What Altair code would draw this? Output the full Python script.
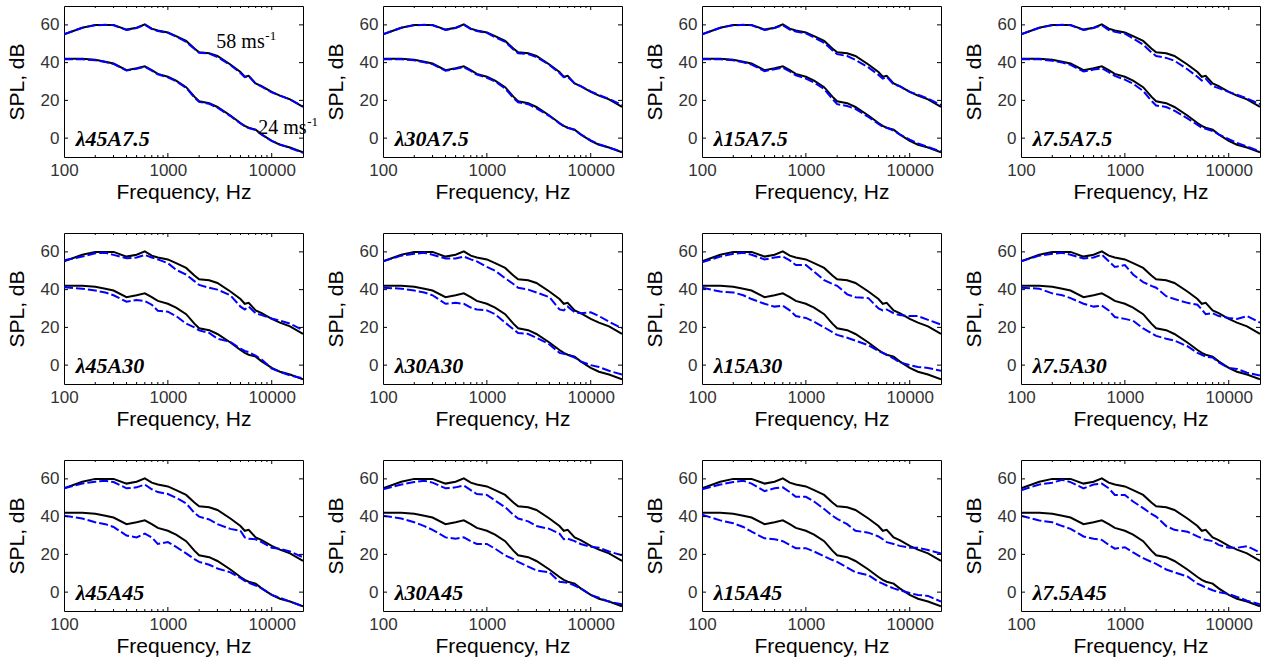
import altair as alt
import pandas as pd

# ---------------- data ----------------
FREQ = [100, 150, 200, 250, 300, 400, 500, 600, 700, 800, 1000, 1200, 1500, 1800, 2000,
        2500, 3000, 4000, 5000, 5500, 6000, 7000, 8000, 10000, 12000, 15000, 20000]

# baseline (straight trailing edge), black solid
BASE_58 = [55, 58.5, 60, 60, 60, 57.5, 58.5, 60.3, 58, 57, 56, 54, 51.5, 47.5, 45.5,
           45, 43.5, 39, 35, 32.5, 33, 29, 27.5, 24.5, 22.5, 20.5, 16.5]
BASE_24 = [42, 42, 41.5, 40.5, 39.5, 36, 37, 38, 36, 34, 32.5, 30.5, 27, 22, 19.5,
           18.5, 16.5, 12, 8, 6.5, 5.5, 4.5, 2, -1.5, -3.5, -5, -7.5]

# serrated cases, blue dashed (58 m/s and 24 m/s)
S58_45_75 = [55, 58.5, 59.8, 60, 59.8, 57.3, 58.3, 60, 57.8, 56.8, 55.8, 53.8, 51, 47.3, 45.2,
             44.8, 43, 38.7, 34.5, 32.3, 32.8, 28.8, 27.3, 24.3, 22.5, 20.5, 16.8]
S24_45_75 = [41.8, 41.8, 41.3, 40.3, 39.3, 35.8, 36.8, 37.8, 35.8, 33.8, 32.2, 30.2, 26.6, 21.6, 19.2,
             18.2, 16.1, 11.7, 7.8, 6.3, 5.3, 4.3, 1.8, -1.5, -3.3, -5.2, -7.8]
S58_30_75 = [55, 58.5, 59.8, 60, 59.8, 57.3, 58.3, 60, 57.8, 56.8, 55.8, 53.5, 51, 47, 45,
             44.5, 43, 38.8, 34.5, 32.3, 32.5, 29, 27.5, 24.8, 22.8, 20.8, 17.5]
S24_30_75 = [41.8, 41.8, 41.2, 40.2, 39.2, 35.7, 36.7, 37.6, 35.6, 33.6, 32, 30, 26.3, 21.3, 19,
             18, 15.8, 11.7, 7.8, 6.3, 5.5, 4.3, 2, -1.2, -3.2, -5, -7.3]
S58_15_75 = [55, 58.5, 59.8, 60, 59.8, 57.3, 58.3, 59.8, 57.5, 56.5, 55.5, 53.3, 50.5, 46.5, 44.5,
             43.5, 41.5, 37.5, 33.5, 31.5, 32.5, 28.5, 27.5, 24.5, 23, 21, 17.5]
S24_15_75 = [41.8, 41.8, 41.2, 40.2, 39, 35.5, 36.5, 37.3, 35.3, 33.3, 31.5, 29.5, 26, 20.8, 18,
             17, 15.5, 11.2, 7.5, 6, 5.5, 4, 2, -0.8, -2.8, -4.7, -7]
S58_75_75 = [55, 58.5, 59.8, 60, 59.8, 57.3, 58.3, 59.8, 57.3, 56.3, 55.3, 52.8, 49.5, 45.5, 43.5,
             42.5, 41, 36.5, 32.5, 30.5, 31.5, 27.5, 26.5, 24.5, 23, 21, 18]
S24_75_75 = [41.8, 41.8, 41, 40, 38.8, 35.3, 36.3, 37, 35, 33, 31, 28.8, 25, 19.8, 17.3,
             16.5, 14.5, 10.5, 7, 5.5, 5, 3.8, 2, -0.5, -2.5, -4.5, -7]

S58_45_30 = [55.5, 57.5, 59.3, 59.5, 58.4, 56.6, 57, 58.4, 57, 56, 54, 50.5, 48, 44.5, 42.5,
             41, 40, 37, 31, 29.5, 31, 27.5, 26.5, 24.7, 23.5, 22, 18.5]
S24_45_30 = [41.2, 40.5, 39.5, 38.5, 37, 33.6, 34.5, 34, 32, 28.8, 28.3, 26, 22, 20, 18.4,
             17, 14, 12.3, 8.7, 7.5, 6.9, 5, 3, -1.8, -3.5, -5.5, -7]
S58_30_30 = [55, 58, 59, 59.5, 58.5, 56.5, 56.5, 57.5, 56, 55, 52, 50, 46, 43, 41,
             40, 38.5, 36, 29.5, 29, 31, 28, 27.5, 28, 26, 23, 19.5]
S24_30_30 = [41, 40.5, 39.5, 38.5, 37, 32.5, 33, 32.5, 30.5, 29.5, 29, 27, 22.5, 19, 17,
             16.5, 14.5, 11, 6.5, 6, 5.5, 4, 2, 0, -1, -3, -5]
S58_15_30 = [54.5, 57.5, 59, 59.5, 58.5, 56, 57, 57.5, 55.5, 53, 53, 49.5, 45, 43, 42,
             37.5, 36, 35.5, 30, 29, 29.5, 27.5, 26.5, 26, 26, 24, 21.5]
S24_15_30 = [41, 39, 38.5, 37, 35, 32.5, 31, 31.5, 29, 26, 25, 23, 20, 17.5, 16,
             14.5, 13, 10.5, 7.5, 6.5, 5.5, 3.5, 1.5, 0, -1, -1.5, -3]
S58_75_30 = [55, 58, 59, 59.5, 58.5, 56.5, 57, 58.5, 55, 52, 53, 48, 44, 42, 41,
             36.5, 35, 33, 32, 29.5, 27, 27.5, 26, 25, 24.5, 26, 22.5]
S24_75_30 = [41, 40.5, 38, 37, 35.5, 32.5, 31, 31.5, 29, 25.5, 24.5, 23.5, 19.5, 17, 15.5,
             14, 13, 10, 6.5, 5.5, 4.5, 4, 1.5, -1.5, -2, -4, -5.5]

S58_45_45 = [55, 57.5, 58.5, 59, 58.3, 55, 55.5, 57, 54.5, 53, 52, 50, 47, 42, 40,
             38.5, 36, 33.5, 32.5, 29, 28.3, 28, 26.5, 23.5, 23, 21.5, 18.5]
S24_45_45 = [40.5, 39, 37, 36, 34.5, 30, 29, 31, 29, 25.5, 26.5, 24, 20.5, 17.5, 16,
             14.5, 12.5, 10.5, 7.5, 6, 5, 3.5, 2, -1.5, -3, -5, -7.5]
S58_30_45 = [54.5, 57, 58.3, 59, 58, 55, 55.5, 56.5, 54, 52, 51.5, 48.5, 45, 41, 39,
             37.5, 35, 33.5, 31, 28, 28.3, 27, 25.5, 24, 23.5, 21.5, 19.5]
S24_30_45 = [40.5, 39, 37, 35, 33, 29, 28.3, 29, 27, 25.5, 25.5, 23, 19.5, 17.5, 16,
             13.5, 11.5, 10.5, 5.5, 5.2, 5, 3.5, 2, -1.5, -3, -5, -6.5]
S58_15_45 = [54.5, 57, 58.3, 59, 57.5, 53.5, 55, 55.5, 53, 50.5, 50.5, 48, 44, 40.5, 38.8,
             36, 32.5, 31.5, 29.5, 28, 26.5, 25.5, 24.5, 23.5, 23.5, 22.3, 20.5]
S24_15_45 = [41, 38, 36.5, 34.5, 32, 28.5, 28, 27, 25, 23.3, 23.3, 21.5, 19, 17, 16,
             13, 10.5, 9, 5.5, 4.5, 3.5, 2, 1, -0.5, -1.5, -2, -5]
S58_75_45 = [54, 57, 58, 59.5, 58.3, 55, 57, 57.5, 55, 51.5, 51.5, 48, 44.5, 41.5, 40,
             35, 33, 32, 29.5, 28.5, 27.7, 27, 25, 23.5, 23.5, 24.3, 21]
S24_75_45 = [40.5, 38, 37, 35, 33.5, 29.5, 28.3, 27.7, 25, 23, 23.8, 21, 18, 16, 15,
             12, 10.5, 8.3, 4.5, 3.5, 2.5, 1, 0, -1, -2.5, -4.5, -6.5]

PANEL_LABELS = ["λ45A7.5", "λ30A7.5", "λ15A7.5", "λ7.5A7.5",
                "λ45A30", "λ30A30", "λ15A30", "λ7.5A30",
                "λ45A45", "λ30A45", "λ15A45", "λ7.5A45"]
PANEL_58 = [S58_45_75, S58_30_75, S58_15_75, S58_75_75,
            S58_45_30, S58_30_30, S58_15_30, S58_75_30,
            S58_45_45, S58_30_45, S58_15_45, S58_75_45]
PANEL_24 = [S24_45_75, S24_30_75, S24_15_75, S24_75_75,
            S24_45_30, S24_30_30, S24_15_30, S24_75_30,
            S24_45_45, S24_30_45, S24_15_45, S24_75_45]

X_MAJOR = [100, 1000, 10000]
X_MINOR = [200, 300, 400, 500, 600, 700, 800, 900,
           2000, 3000, 4000, 5000, 6000, 7000, 8000, 9000]
Y_TICKS = [0, 20, 40, 60]
X_DOMAIN = [100, 20000]
Y_DOMAIN = [-10, 70]

LABEL_POS = (130, -4.3)             # freq, SPL of panel label baseline
SPEED_TEXT = ["58 ms", "24 ms"]
SPEED_F = [2930, 7400]
SPEED_SPL = [47.7, 2.2]

W, H = 239, 151

xs = alt.Scale(type="log", domain=X_DOMAIN, nice=False)
ys = alt.Scale(domain=Y_DOMAIN, nice=False, zero=False)
X_ENC = alt.X("f:Q", scale=xs, axis=alt.Axis(values=X_MAJOR, format="d", title="Frequency, Hz",
                                             labelFlush=False))
Y_ENC = alt.Y("spl:Q", scale=ys, axis=alt.Axis(values=Y_TICKS, title="SPL, dB"))


def panel(label, s58, s24, annotate):
    rows = []
    for f, b58, b24, v58, v24 in zip(FREQ, BASE_58, BASE_24, s58, s24, strict=True):
        rows.append(dict(f=f, spl=b58, series="58", kind="base"))
        rows.append(dict(f=f, spl=b24, series="24", kind="base"))
        rows.append(dict(f=f, spl=v58, series="58", kind="serr"))
        rows.append(dict(f=f, spl=v24, series="24", kind="serr"))
    df = pd.DataFrame(rows)

    base = alt.Chart(df).transform_filter(alt.datum.kind == "base").mark_line(
        color="black", strokeWidth=2, clip=True
    ).encode(x=X_ENC, y=Y_ENC, detail="series:N")
    serr = alt.Chart(df).transform_filter(alt.datum.kind == "serr").mark_line(
        color="#0000ff", strokeWidth=2, strokeDash=[9, 3], clip=True
    ).encode(x=X_ENC, y=Y_ENC, detail="series:N")

    tmaj = pd.DataFrame({"f": X_MAJOR[1:]})
    tmin = pd.DataFrame({"f": X_MINOR})
    ty = pd.DataFrame({"spl": Y_TICKS})
    ticks = [
        alt.Chart(tmaj).mark_rule(color="black", strokeWidth=1).encode(
            x=X_ENC, y=alt.value(H), y2=alt.value(H - 4)),
        alt.Chart(tmaj).mark_rule(color="black", strokeWidth=1).encode(
            x=X_ENC, y=alt.value(0), y2=alt.value(4)),
        alt.Chart(tmin).mark_rule(color="black", strokeWidth=1).encode(
            x=X_ENC, y=alt.value(H), y2=alt.value(H - 2)),
        alt.Chart(tmin).mark_rule(color="black", strokeWidth=1).encode(
            x=X_ENC, y=alt.value(0), y2=alt.value(2)),
        alt.Chart(ty).mark_rule(color="black", strokeWidth=1).encode(
            y=Y_ENC, x=alt.value(0), x2=alt.value(4)),
        alt.Chart(ty).mark_rule(color="black", strokeWidth=1).encode(
            y=Y_ENC, x=alt.value(W), x2=alt.value(W - 4)),
    ]

    lab = alt.Chart(pd.DataFrame({"f": [LABEL_POS[0]], "spl": [LABEL_POS[1]], "t": [label]})).mark_text(
        font="Liberation Serif", fontSize=22, fontWeight="bold", fontStyle="italic",
        align="left", baseline="alphabetic", color="black"
    ).encode(x=X_ENC, y=Y_ENC, text="t:N")

    layers = [base, serr] + ticks + [lab]
    if annotate:
        sp = pd.DataFrame({"f": SPEED_F, "spl": SPEED_SPL, "t": SPEED_TEXT})
        layers.append(alt.Chart(sp).mark_text(
            font="Liberation Serif", fontSize=20, align="left", baseline="alphabetic", color="black"
        ).encode(x=X_ENC, y=Y_ENC, text="t:N"))
        layers.append(alt.Chart(sp).mark_text(
            font="Liberation Serif", fontSize=13, align="left", baseline="alphabetic",
            color="black", dx=49, dy=-8
        ).encode(x=X_ENC, y=Y_ENC, text=alt.value("-1")))
    return alt.layer(*layers).properties(width=W, height=H)


panels = [panel(l, a, b, i == 0) for i, (l, a, b) in enumerate(zip(PANEL_LABELS, PANEL_58, PANEL_24))]

chart = alt.concat(*panels, columns=4, spacing={"row": 76, "column": 80}, bounds="flush").properties(
    padding={"left": 5, "top": 5, "right": 0, "bottom": 0},
    background="white",
).configure_view(
    stroke="black", strokeWidth=1
).configure_axis(
    grid=False, domain=False, ticks=False, tickSize=0,
    labelFont="Liberation Sans", labelFontSize=17, labelColor="#333333",
    titleFont="Liberation Sans", titleFontSize=21, titleFontWeight="normal", titleColor="black",
).configure_axisX(
    labelPadding=5, titlePadding=3
).configure_axisY(
    labelPadding=5, titlePadding=13
)

chart.save("out.html", embed_options={"renderer": "svg", "actions": False})
